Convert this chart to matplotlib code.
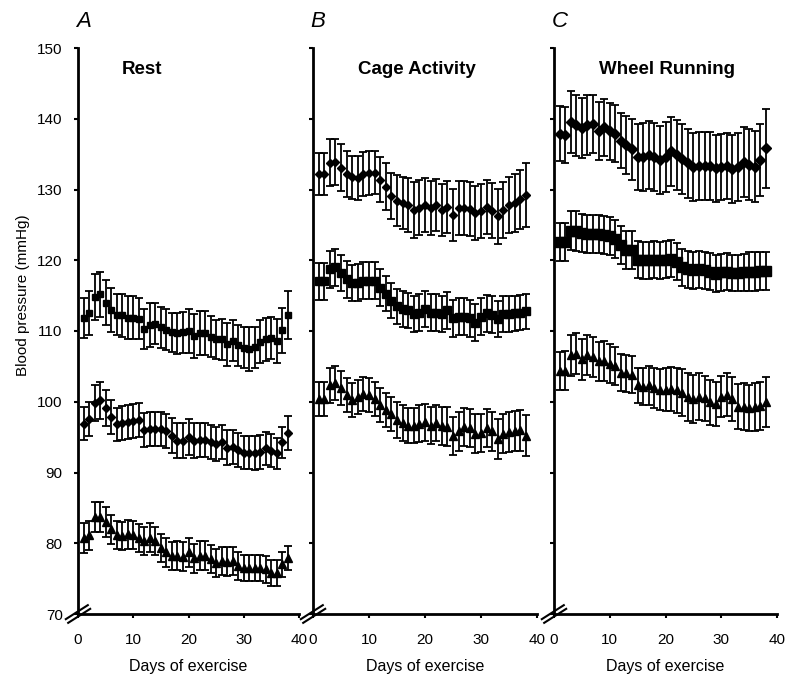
import matplotlib
matplotlib.use("Agg")
import matplotlib.pyplot as plt

plt.rcParams['font.family'] = ['Liberation Sans', 'DejaVu Sans']

ink_c = "#000000"
background_c = "#FFFFFF"

# === Data (mmHg, mean and SEM for days 1..38) ===
days = list(range(1, 39))

rest_sq = [111.8, 112.6, 114.8, 115.2, 114.0, 113.0, 112.3, 112.2, 111.9, 111.9,
           111.7, 110.3, 110.9, 111.0, 110.5, 110.2, 109.8, 109.7, 109.8, 110.0,
           109.3, 109.7, 109.7, 109.2, 108.8, 108.8, 108.1, 108.6, 108.0, 107.6,
           107.5, 107.7, 108.5, 108.8, 109.0, 108.6, 110.1, 112.3]
rest_sq_err = [2.8, 3.1, 3.2, 3.2, 3.2, 3.1, 2.9, 3.1, 3.1, 3.1,
               2.9, 2.8, 3.1, 2.9, 2.9, 2.9, 2.8, 2.9, 2.9, 3.1,
               3.1, 3.1, 3.1, 2.9, 2.8, 2.9, 3.1, 2.9, 2.9, 2.9,
               3.1, 2.9, 3.0, 3.1, 3.0, 3.1, 3.2, 3.4]
rest_di = [96.9, 97.5, 99.8, 100.2, 99.1, 97.8, 96.8, 97.0, 97.1, 97.3,
           97.4, 96.0, 96.2, 96.1, 96.1, 95.9, 95.2, 94.5, 94.5, 95.0,
           94.5, 94.6, 94.6, 94.3, 94.0, 94.3, 93.5, 93.6, 93.2, 92.8,
           92.8, 92.8, 92.9, 93.4, 93.1, 92.7, 94.3, 95.6]
rest_di_err = [2.35, 2.4, 2.5, 2.6, 2.5, 2.4, 2.35, 2.4, 2.4, 2.45,
               2.4, 2.35, 2.4, 2.4, 2.4, 2.4, 2.45, 2.5, 2.45, 2.5,
               2.45, 2.4, 2.4, 2.4, 2.4, 2.4, 2.45, 2.4, 2.4, 2.35,
               2.35, 2.4, 2.35, 2.3, 2.3, 2.2, 2.2, 2.35]
rest_tr = [80.7, 81.1, 83.7, 83.7, 83.0, 82.0, 81.2, 81.0, 81.3, 81.2,
           80.7, 80.3, 80.8, 80.3, 79.3, 78.7, 78.2, 78.2, 78.1, 78.7,
           77.9, 78.2, 78.2, 77.8, 77.2, 77.5, 77.4, 77.5, 76.8, 76.5,
           76.5, 76.5, 76.5, 76.3, 75.8, 75.8, 77.0, 77.9]
rest_tr_err = [2.1, 2.1, 2.1, 2.1, 2.1, 2.05, 2.0, 2.0, 2.05, 2.0,
               2.0, 2.0, 2.05, 2.0, 2.0, 2.0, 2.0, 2.05, 2.05, 2.1,
               2.05, 2.05, 2.05, 2.0, 1.95, 1.95, 2.0, 2.0, 1.95, 1.9,
               1.9, 1.9, 1.9, 1.9, 1.85, 1.85, 1.8, 1.75]

cage_di = [132.2, 132.2, 133.8, 133.9, 133.1, 132.2, 131.7, 131.6, 132.2, 132.3,
           132.4, 131.4, 130.4, 129.1, 128.4, 128.1, 127.8, 127.1, 127.4, 127.8,
           127.4, 127.8, 127.1, 127.5, 126.4, 127.4, 127.4, 127.2, 126.7, 127.0,
           127.5, 127.0, 126.2, 127.1, 127.8, 128.1, 128.6, 129.2]
cage_di_err = [2.95, 3.0, 3.3, 3.3, 3.3, 3.2, 3.1, 3.1, 3.1, 3.1,
               3.1, 3.2, 3.3, 3.3, 3.6, 3.7, 3.8, 4.0, 3.9, 3.8,
               3.8, 3.7, 3.7, 3.7, 3.7, 3.8, 3.8, 3.8, 3.8, 3.8,
               3.8, 3.9, 3.9, 3.9, 4.0, 4.1, 4.2, 4.5]
cage_sq = [117.0, 117.0, 118.7, 119.0, 118.2, 117.3, 116.8, 116.8, 117.1, 117.1,
           117.1, 116.1, 115.3, 114.3, 113.5, 113.1, 112.9, 112.4, 112.6, 113.1,
           112.6, 112.6, 112.4, 112.9, 111.8, 112.0, 112.0, 111.8, 111.2, 112.0,
           112.5, 112.3, 111.7, 112.4, 112.4, 112.5, 112.6, 112.8]
cage_sq_err = [2.6, 2.6, 2.6, 2.6, 2.6, 2.6, 2.5, 2.6, 2.6, 2.6,
               2.6, 2.6, 2.5, 2.5, 2.5, 2.5, 2.5, 2.6, 2.6, 2.6,
               2.6, 2.6, 2.6, 2.6, 2.6, 2.6, 2.6, 2.6, 2.6, 2.6,
               2.6, 2.6, 2.5, 2.5, 2.5, 2.5, 2.5, 2.5]
cage_tr = [100.4, 100.4, 102.3, 102.6, 101.9, 101.0, 100.2, 100.7, 101.1, 101.0,
           100.4, 99.6, 98.9, 98.3, 97.4, 97.0, 96.6, 96.6, 96.9, 97.1,
           96.6, 97.0, 96.6, 96.5, 95.2, 95.8, 96.4, 96.3, 95.5, 95.6,
           96.3, 95.8, 94.7, 95.5, 95.7, 95.9, 96.0, 95.2]
cage_tr_err = [2.4, 2.4, 2.5, 2.4, 2.4, 2.4, 2.4, 2.4, 2.4, 2.4,
               2.4, 2.4, 2.4, 2.4, 2.5, 2.5, 2.5, 2.5, 2.6, 2.6,
               2.6, 2.6, 2.7, 2.7, 2.7, 2.7, 2.7, 2.7, 2.7, 2.7,
               2.7, 2.8, 2.8, 2.8, 2.8, 2.8, 2.9, 2.9]

wheel_di = [137.9, 137.7, 139.5, 139.1, 138.7, 139.1, 139.3, 138.3, 138.8, 138.2,
            137.9, 136.9, 136.3, 135.7, 134.6, 134.6, 134.9, 134.6, 134.2, 134.6,
            135.4, 134.9, 134.3, 133.7, 133.2, 133.3, 133.3, 133.3, 133.0, 133.2,
            133.3, 132.9, 133.2, 133.9, 133.5, 133.2, 134.2, 135.8]
wheel_di_err = [3.9, 4.0, 4.4, 4.3, 4.2, 4.2, 4.1, 4.1, 4.0, 4.0,
                4.0, 3.9, 4.1, 4.3, 4.6, 4.8, 4.8, 4.8, 4.8, 4.9,
                4.9, 4.9, 4.9, 4.9, 4.8, 4.8, 4.8, 4.8, 4.7, 4.7,
                4.7, 4.8, 4.8, 4.9, 5.0, 5.0, 5.1, 5.6]
wheel_sq = [122.6, 122.6, 124.2, 124.1, 123.8, 123.7, 123.7, 123.7, 123.6, 123.4,
            123.0, 122.2, 121.5, 121.4, 120.1, 120.0, 120.0, 120.1, 120.0, 120.1,
            120.2, 119.8, 119.0, 118.7, 118.6, 118.7, 118.6, 118.4, 118.1, 118.3,
            118.4, 118.2, 118.2, 118.3, 118.4, 118.4, 118.5, 118.5]
wheel_sq_err = [2.7, 2.7, 2.8, 2.8, 2.7, 2.7, 2.7, 2.7, 2.7, 2.7,
                2.7, 2.7, 2.7, 2.7, 2.6, 2.6, 2.6, 2.6, 2.6, 2.6,
                2.6, 2.6, 2.6, 2.6, 2.6, 2.6, 2.6, 2.6, 2.6, 2.6,
                2.6, 2.6, 2.6, 2.6, 2.7, 2.7, 2.7, 2.7]
wheel_tr = [104.3, 104.4, 106.6, 106.8, 106.0, 106.6, 106.3, 105.7, 105.8, 105.4,
            105.0, 104.1, 104.0, 103.8, 102.3, 102.1, 102.3, 101.9, 101.7, 101.7,
            101.8, 101.6, 101.3, 100.7, 100.4, 100.7, 100.5, 99.9, 99.7, 100.7,
            101.0, 100.4, 99.3, 99.3, 99.1, 99.3, 99.4, 100.0]
wheel_tr_err = [2.7, 2.8, 2.9, 2.9, 2.9, 2.8, 2.8, 2.8, 2.8, 2.7,
                2.7, 2.6, 2.6, 2.6, 2.5, 2.6, 2.7, 2.8, 2.9, 3.0,
                3.1, 3.2, 3.3, 3.4, 3.4, 3.3, 3.2, 3.2, 3.1, 2.9,
                3.0, 3.1, 3.2, 3.3, 3.3, 3.4, 3.4, 3.5]

panel_titles = ["Rest", "Cage Activity", "Wheel Running"]
panel_letters = ["A", "B", "C"]
panel_series = [
    [(rest_sq, rest_sq_err, "s", 5.0), (rest_di, rest_di_err, "D", 4.2), (rest_tr, rest_tr_err, "^", 5.5)],
    [(cage_di, cage_di_err, "D", 4.5), (cage_sq, cage_sq_err, "s", 6.0), (cage_tr, cage_tr_err, "^", 6.0)],
    [(wheel_di, wheel_di_err, "D", 5.0), (wheel_sq, wheel_sq_err, "s", 6.5), (wheel_tr, wheel_tr_err, "^", 6.0)],
]

x_ticks = [0, 10, 20, 30, 40]
y_ticks = [70, 80, 90, 100, 110, 120, 130, 140, 150]

# axes boxes in pixels (left, right) on an 800x692 canvas
fig_w, fig_h = 800, 692
panel_px = [(78, 299), (313, 537), (554, 777)]
top_px, bottom_px = 48, 614

fig = plt.figure(figsize=(fig_w / 100, fig_h / 100), dpi=100)
fig.patch.set_facecolor(background_c)

for i, (x0, x1) in enumerate(panel_px):
    ax = fig.add_axes([x0 / fig_w, 1 - bottom_px / fig_h, (x1 - x0) / fig_w, (bottom_px - top_px) / fig_h])
    ax.set_facecolor(background_c)

    for vals, errs, marker, ms in panel_series[i]:
        ax.errorbar(days, vals, yerr=errs, fmt=marker, color=ink_c, ms=ms,
                    elinewidth=1.3, capsize=2.6, capthick=1.3, ecolor=ink_c, zorder=3)

    ax.set_xlim(0, 40)
    ax.set_ylim(70, 150)
    ax.set_xticks(x_ticks)
    ax.set_yticks(y_ticks)
    for side in ("top", "right"):
        ax.spines[side].set_visible(False)
    for side in ("left", "bottom"):
        ax.spines[side].set_linewidth(2.0)
    ax.tick_params(direction="out", length=3, width=1.5, labelsize=11, colors=ink_c)
    ax.tick_params(axis="x", pad=11)
    ax.tick_params(axis="y", pad=8)
    if i > 0:
        ax.tick_params(labelleft=False)
    else:
        ax.set_ylabel("Blood pressure (mmHg)", fontsize=11)
        ax.yaxis.set_label_coords(-0.215, 0.564)

    ax.set_xlabel("Days of exercise", fontsize=11.5, labelpad=8)

    # panel title and letter
    ax.text(0.2, 146.9, panel_titles[i], transform=ax.get_yaxis_transform(),
            ha="left", va="center", fontsize=13.5, fontweight="bold")
    ax.text(-0.01, 1.046, panel_letters[i], transform=ax.transAxes,
            ha="left", va="center", fontsize=16, fontstyle="italic")

    # axis break "//" at the origin
    w_px, h_px = x1 - x0, bottom_px - top_px
    for off in (-2.2, 2.2):
        dx, dy = -0.54 * off, 0.84 * off
        xs = [(-11 + dx) / w_px, (11 + dx) / w_px]
        ys = [(-7 + dy) / h_px, (7 + dy) / h_px]
        ax.plot(xs, ys, transform=ax.transAxes, color=ink_c, lw=1.5, clip_on=False, zorder=5)

plt.savefig("out.png", dpi=100, facecolor=background_c)
plt.close(fig)
